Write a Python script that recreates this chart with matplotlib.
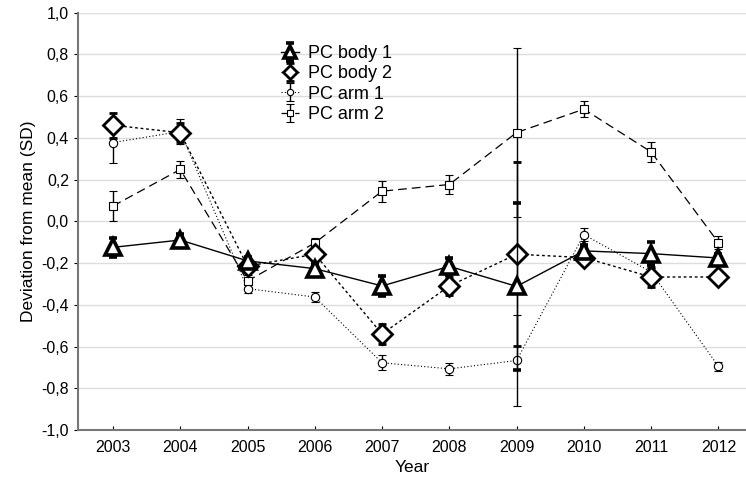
import numpy as np
import matplotlib.pyplot as plt
from matplotlib.ticker import FuncFormatter

plt.rcParams['font.family'] = ['Liberation Sans', 'DejaVu Sans']

years = [2003, 2004, 2005, 2006, 2007, 2008, 2009, 2010, 2011, 2012]

body1 = [-0.125, -0.09, -0.19, -0.227, -0.31, -0.216, -0.312, -0.142, -0.155, -0.176]
body1_err = [0.045, 0.03, 0.02, 0.02, 0.048, 0.04, 0.40, 0.03, 0.055, 0.02]

body2 = [0.46, 0.424, -0.215, -0.158, -0.54, -0.31, -0.158, -0.174, -0.267, -0.267]
body2_err = [0.06, 0.045, 0.03, 0.03, 0.05, 0.045, 0.44, 0.03, 0.05, 0.01]

arm1 = [0.377, 0.43, -0.323, -0.363, -0.678, -0.707, -0.667, -0.064, -0.243, -0.695]
arm1_err = [0.096, 0.06, 0.02, 0.025, 0.035, 0.03, 0.22, 0.03, 0.02, 0.02]

arm2 = [0.073, 0.248, -0.286, -0.104, 0.144, 0.176, 0.425, 0.537, 0.332, -0.102]
arm2_err = [0.07, 0.04, 0.03, 0.025, 0.05, 0.045, 0.405, 0.037, 0.05, 0.03]

fig = plt.figure(figsize=(7.46, 4.8), dpi=100)
ax = fig.add_axes([78/746, 1-430/480, 1-78/746, (430-12.5)/480])

ax.errorbar(years, body1, yerr=body1_err, color='black', lw=1, ls='-',
            marker='^', ms=12, mfc='white', mec='black', mew=2.6,
            capsize=3, capthick=0.9, elinewidth=1, label='PC body 1', zorder=4)
ax.errorbar(years, body2, yerr=body2_err, color='black', lw=1, ls=(0, (2, 2)),
            marker='D', ms=10, mfc='white', mec='black', mew=2,
            capsize=3, capthick=0.9, elinewidth=1, label='PC body 2', zorder=3)
ax.errorbar(years, arm1, yerr=arm1_err, color='black', lw=0.8, ls=(0, (1, 2)),
            marker='o', ms=6, mfc='white', mec='black', mew=0.8,
            capsize=3, capthick=0.9, elinewidth=1, label='PC arm 1', zorder=2)
ax.errorbar(years, arm2, yerr=arm2_err, color='black', lw=0.9, ls=(0, (7, 4)),
            marker='s', ms=6, mfc='white', mec='black', mew=0.8,
            capsize=3, capthick=0.9, elinewidth=1, label='PC arm 2', zorder=2)

ax.set_xlim(2002.48, 2012.41)
ax.set_ylim(-1.0, 1.0)
ax.set_xticks(years)
ax.set_yticks(np.arange(-1.0, 1.01, 0.2))
ax.yaxis.set_major_formatter(FuncFormatter(lambda v, p: f'{v:.1f}'.replace('.', ',').replace('-0,0', '0,0')))
ax.yaxis.grid(True, color='#dddddd', lw=1)
ax.set_axisbelow(True)

for s in ['top', 'right']:
    ax.spines[s].set_visible(False)
for s in ['left', 'bottom']:
    ax.spines[s].set_color('#777777')
    ax.spines[s].set_linewidth(1.5)

ax.tick_params(axis='x', direction='in', length=3, labelsize=11.5, pad=7)
ax.tick_params(axis='y', direction='out', length=3, labelsize=11.5)
ax.set_xlabel('Year', fontsize=12.5)
ax.set_ylabel('Deviation from mean (SD)', fontsize=12.5)

ax.legend(loc='upper left', bbox_to_anchor=(274/746, 1-38/480), bbox_transform=fig.transFigure,
          frameon=False, fontsize=13, labelspacing=0.18, handlelength=1.0, handletextpad=0.5,
          markerscale=0.75, borderaxespad=0)

fig.savefig('out.png', dpi=100)
